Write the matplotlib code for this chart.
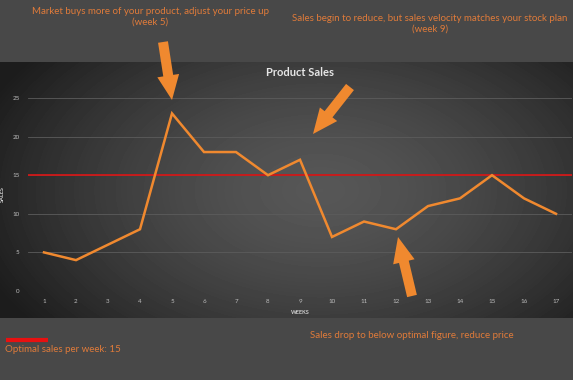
import numpy as np
import matplotlib
matplotlib.use("Agg")
import matplotlib.pyplot as plt
from matplotlib.patches import FancyArrow

plt.rcParams['font.family'] = ['Lato', 'DejaVu Sans']

weeks = list(range(1, 18))
sales = [5, 4, 6, 8, 23, 18, 18, 15, 17, 7, 9, 8, 11, 12, 15, 12, 10]
optimal = 15
orange = '#f0892f'
txt_orange = '#e07b3a'

fig = plt.figure(figsize=(5.73, 3.80), dpi=100)
fig.patch.set_facecolor('#484848')

# background panel with radial gradient (pixel coords)
bg = fig.add_axes([0, 0, 1, 1], zorder=0)
bg.set_xlim(0, 573)
bg.set_ylim(380, 0)
bg.axis('off')
yy, xx = np.mgrid[0:256, 0:573]
r = np.sqrt(((xx - 320) / 330.0) ** 2 + ((yy - 128) / 200.0) ** 2)
shade = np.clip(0.34 - 0.2 * r ** 1.5, 0.11, 0.34)
bg.imshow(shade, cmap='gray', vmin=0, vmax=1, extent=(0, 573, 318, 62),
          aspect='auto', interpolation='bilinear')

# main chart
ax = fig.add_axes([28 / 573, 1 - 291 / 380, 544 / 573, 193 / 380], zorder=1)
ax.patch.set_alpha(0)
ax.plot(weeks, sales, color=orange, lw=1.8, solid_joinstyle='miter', zorder=3)
ax.axhline(optimal, color='#d01818', lw=1.3, zorder=2)
ax.set_xlim(0.5, 17.5)
ax.set_ylim(0, 25)
ax.set_xticks(weeks)
ax.set_yticks(range(0, 26, 5))
for y in range(0, 26, 5):
    ax.axhline(y, color='#5c5c5c', lw=0.6, zorder=1)
for s in ax.spines.values():
    s.set_visible(False)
ax.tick_params(length=0, labelsize=4.5, colors='#bdbdbd', pad=6)
ax.tick_params(axis='y', pad=6)
ax.set_xlabel('WEEKS', fontsize=4, color='#cfcfcf', fontweight='bold', labelpad=4)
ax.set_ylabel('SALES', fontsize=4, color='#cfcfcf', fontweight='bold')
ax.yaxis.set_label_coords(-0.042, 0.5)

fig.text(300 / 573, 1 - 72 / 380, 'Product Sales', ha='center', va='center',
         fontsize=8, fontweight='bold', color='#e6e6e6')

# annotations overlay
ov = fig.add_axes([0, 0, 1, 1], zorder=5)
ov.set_xlim(0, 573)
ov.set_ylim(380, 0)
ov.axis('off')

ov.text(150, 17, 'Market buys more of your product, adjust your price up\n(week 5)',
        ha='center', va='center', fontsize=7, color=txt_orange, linespacing=1.25)
ov.text(430, 24, 'Sales begin to reduce, but sales velocity matches your stock plan\n(week 9)',
        ha='center', va='center', fontsize=7, color=txt_orange, linespacing=1.25)
ov.text(412, 335, 'Sales drop to below optimal figure, reduce price',
        ha='center', va='center', fontsize=7, color=txt_orange)
ov.text(5, 350, 'Optimal sales per week: 15', ha='left', va='center',
        fontsize=7, color=txt_orange)
ov.plot([6, 48], [340, 340], color='#e81010', lw=3, solid_capstyle='butt')

def block_arrow(x0, y0, x1, y1):
    dx, dy = x1 - x0, y1 - y0
    L = np.hypot(dx, dy)
    ov.add_patch(FancyArrow(x0, y0, dx, dy, width=10, head_width=22,
                            head_length=L * 0.42, length_includes_head=True,
                            color=orange, lw=0))

block_arrow(163, 42, 172, 100)
block_arrow(350, 87, 313, 134)
block_arrow(412, 296, 398, 237)

fig.savefig('out.png', dpi=100, facecolor=fig.get_facecolor())
